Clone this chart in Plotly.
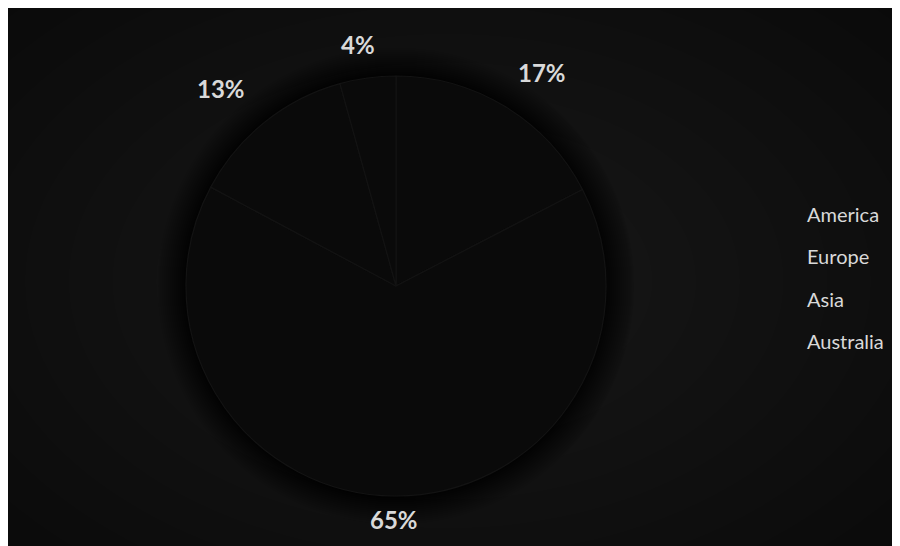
import math
import plotly.graph_objects as go

labels = ["America", "Europe", "Asia", "Australia"]
values = [17.4, 65.4, 12.9, 4.3]

W, H = 900, 546
BG = "#0a0a0a"
TXT = "#d9d9d9"
PIE_CX, PIE_CY, PIE_R = 388, 278, 210  # figure pixels
LAB_CY = PIE_CY - 5
LAB_RX, LAB_RY0, LAB_RYK = 280, 238.6, 19


def px(x):
    return x / W


def py(y):
    return 1 - y / H


fig = go.Figure()
fig.add_trace(go.Pie(
    labels=labels,
    values=values,
    sort=False,
    direction="clockwise",
    rotation=0,
    textposition="none",
    marker=dict(colors=["#0a0a0a"] * 4, line=dict(color="#131313", width=1.2)),
    domain=dict(x=[px(PIE_CX - PIE_R), px(PIE_CX + PIE_R)],
                y=[py(PIE_CY + PIE_R), py(PIE_CY - PIE_R)]),
    showlegend=False,
    hoverinfo="label+percent",
))

annotations = []
# percentage labels outside each slice, placed from the data's cumulative angles
total = sum(values)
cum = 0.0
for lab, v in zip(labels, values):
    mid = (cum + v / 2) / total * 2 * math.pi
    cum += v
    s, c = math.sin(mid), math.cos(mid)
    lx = PIE_CX + LAB_RX * s
    ly = LAB_CY - (LAB_RY0 + LAB_RYK * s * s) * c
    annotations.append(dict(
        x=px(lx), y=py(ly), xref="paper", yref="paper",
        xanchor="center", yanchor="middle", showarrow=False,
        text=f"{round(v / total * 100)}%",
        font=dict(family="Lato", size=24, color=TXT, weight="bold"),
    ))

# legend entries (markers are black on black in the original, so only text shows)
for i, lab in enumerate(labels):
    annotations.append(dict(
        x=px(797), y=py(205.5 + i * 42.5), xref="paper", yref="paper",
        xanchor="left", yanchor="middle", text=lab, showarrow=False,
        font=dict(family="Lato", size=20, color=TXT),
    ))

shapes = []
# soft radial background gradient
GX, GY = 440, 273
for k in range(12):
    r = 520 - k * 38
    shapes.append(dict(
        type="circle", xref="paper", yref="paper", layer="below",
        x0=px(GX - r * 1.15), x1=px(GX + r * 1.15),
        y0=py(GY + r * 0.75), y1=py(GY - r * 0.75),
        fillcolor="rgba(255,255,255,0.006)", line=dict(width=0),
    ))
# dark halo round the pie
for k in range(28, 0, -2):
    r = PIE_R + k
    shapes.append(dict(
        type="circle", xref="paper", yref="paper", layer="below",
        x0=px(PIE_CX - r), x1=px(PIE_CX + r),
        y0=py(PIE_CY + r), y1=py(PIE_CY - r),
        fillcolor="rgba(0,0,0,0.06)", line=dict(width=0),
    ))

fig.update_layout(
    width=W, height=H,
    margin=dict(l=0, r=0, t=0, b=0),
    paper_bgcolor=BG,
    plot_bgcolor=BG,
    annotations=annotations,
    shapes=shapes,
)

fig.write_html(
    "out.html",
    post_script="document.documentElement.style.overflow='hidden';"
                "document.body.style.overflow='hidden';",
)
